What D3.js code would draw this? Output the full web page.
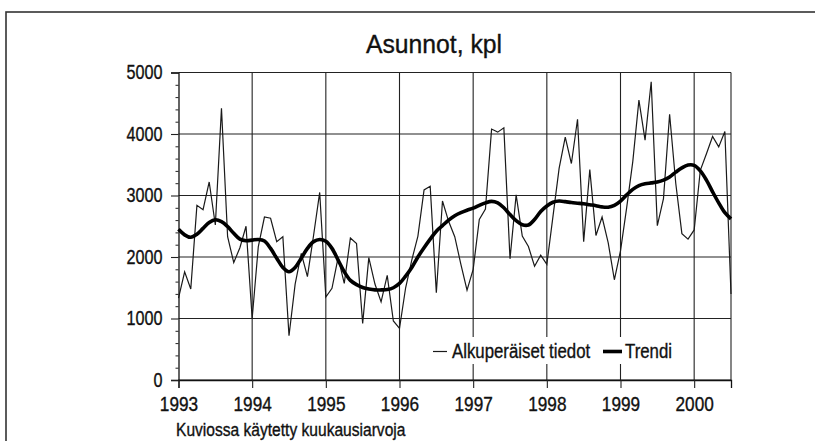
<!DOCTYPE html>
<html>
<head>
<meta charset="utf-8">
<script src="https://cdn.jsdelivr.net/npm/d3@7/dist/d3.min.js"></script>
<style>
  body { margin: 0; background: #fff; }
  svg { display: block; }
  text { font-family: "Liberation Sans", Arial, sans-serif; fill: #111; stroke: #111; stroke-width: 0.35px; }
</style>
</head>
<body>
<svg id="chart"></svg>
<script>
// monthly values, Jan 1993 .. Jul 2000
var startYear = 1993;
var yearTicks = [1993, 1994, 1995, 1996, 1997, 1998, 1999, 2000];
var valueTicks = [0, 1000, 2000, 3000, 4000, 5000];

var original = [
  1330, 1760, 1480, 2840, 2770, 3220, 2520, 4420, 2330, 1910, 2150, 2500,
  1000, 2170, 2650, 2630, 2250, 2330, 720, 1560, 2060, 1680, 2350, 3050,
  1350, 1490, 1990, 1570, 2310, 2220, 920, 1990, 1560, 1270, 1700, 960,
  840, 1500, 1950, 2340, 3090, 3150, 1420, 2910, 2580, 2330, 1880, 1460,
  1800, 2610, 2780, 4080, 4030, 4100, 1970, 3010, 2340, 2170, 1850, 2030,
  1880, 2660, 3440, 3950, 3520, 4240, 2250, 3420, 2350, 2650, 2230, 1630,
  2100, 2800, 3550, 4550, 3900, 4850, 2510, 2950, 4320, 3200, 2380, 2290,
  2440, 3410, 3680, 3960, 3790, 4040, 1400
];

var trend = [
  2450, 2360, 2320, 2370, 2465, 2560, 2605, 2575, 2495, 2385, 2290, 2265,
  2275, 2285, 2260, 2140, 1980, 1830, 1760, 1830, 1980, 2140, 2250, 2285,
  2255, 2140, 1950, 1760, 1620, 1550, 1505, 1480, 1465, 1465, 1470, 1500,
  1570, 1690, 1830, 2000, 2150, 2290, 2420, 2510, 2600, 2670, 2720, 2760,
  2795, 2840, 2880, 2905, 2880, 2800, 2690, 2590, 2525, 2520, 2610, 2740,
  2830, 2890, 2910, 2900, 2885, 2875, 2865, 2850, 2835, 2815, 2810, 2840,
  2910, 3010, 3100, 3160, 3190, 3205, 3220, 3250, 3300, 3380, 3450, 3495,
  3490, 3400, 3250, 3060, 2880, 2720, 2620
];

var width = 815, height = 441;
var svg = d3.select("#chart").attr("width", width).attr("height", height);

// no narrow font installed, so squeeze the regular one
function squeeze(sel, k) {
  sel.each(function() {
    var w = this.getComputedTextLength();
    d3.select(this).attr("textLength", w * k).attr("lengthAdjust", "spacingAndGlyphs");
  });
}

// outer frame
svg.append("rect")
    .attr("x", 6).attr("y", 12)
    .attr("width", 830).attr("height", 460)
    .attr("fill", "none").attr("stroke", "#333").attr("stroke-width", 1.6);

var x = d3.scaleLinear().domain([1993, 2000.5]).range([178.5, 731]);
var y = d3.scaleLinear().domain([0, 5000]).range([380, 72.5]);

function monthX(d, i) { return x(startYear + i / 12); }

// title
svg.append("text")
    .attr("x", 434).attr("y", 53)
    .attr("text-anchor", "middle")
    .attr("font-size", 25.5)
    .text("Asunnot, kpl")
    .call(squeeze, 0.97);

// grid
var grid = svg.append("g").attr("stroke", "#222").attr("stroke-width", 1.1);
grid.selectAll(".h").data(valueTicks).enter().append("line")
    .attr("x1", x.range()[0]).attr("x2", x.range()[1])
    .attr("y1", function(d) { return y(d); }).attr("y2", function(d) { return y(d); });
grid.selectAll(".v").data(yearTicks.slice(1).concat([2000.5])).enter().append("line")
    .attr("x1", function(d) { return x(d); }).attr("x2", function(d) { return x(d); })
    .attr("y1", y(5000)).attr("y2", y(0));

// axes
var minor = d3.range(0, 5001, 200).filter(function(d) { return d % 1000 !== 0; });
svg.append("g")
    .attr("transform", "translate(" + x.range()[0] + ",0)")
    .call(d3.axisLeft(y).tickValues(minor).tickSize(3).tickFormat(""))
    .call(function(g) { g.select(".domain").remove(); g.selectAll("line").attr("stroke", "#222"); });

var yAxis = svg.append("g")
    .attr("transform", "translate(" + x.range()[0] + ",0)")
    .call(d3.axisLeft(y).tickValues(valueTicks).tickSize(7.5).tickPadding(8.5).tickFormat(d3.format("d")));
yAxis.attr("font-family", null);
yAxis.select(".domain").attr("stroke", "#111").attr("stroke-width", 1.3);
yAxis.selectAll("line").attr("stroke", "#222").attr("stroke-width", 1.1);
yAxis.selectAll("text").attr("font-size", 19.5).attr("fill", null).call(squeeze, 0.83);

var xAxis = svg.append("g")
    .attr("transform", "translate(0," + y(0) + ")")
    .call(d3.axisBottom(x).tickValues(yearTicks).tickSize(8).tickPadding(8.5).tickFormat(d3.format("d")));
xAxis.attr("font-family", null);
xAxis.select(".domain").attr("stroke", "#111").attr("stroke-width", 1.3);
xAxis.selectAll("line").attr("stroke", "#222").attr("stroke-width", 1.1);
xAxis.selectAll("text").attr("font-size", 20).attr("fill", null).call(squeeze, 0.86);

// legend background (drawn before the lines so the lines stay on top)
var legend = svg.append("g");
legend.append("rect")
    .attr("x", 428).attr("y", 337).attr("width", 262).attr("height", 27)
    .attr("fill", "#fff");

// series
var rawLine = d3.line().x(monthX).y(function(d) { return y(d); });
var trendLine = d3.line().x(monthX).y(function(d) { return y(d); }).curve(d3.curveCatmullRom);

svg.append("path")
    .datum(original)
    .attr("d", rawLine)
    .attr("fill", "none").attr("stroke", "#1a1a1a").attr("stroke-width", 1.2)
    .attr("stroke-linejoin", "miter");

svg.append("path")
    .datum(trend)
    .attr("d", trendLine)
    .attr("fill", "none").attr("stroke", "#000").attr("stroke-width", 3.6);

// legend items
legend.append("line").attr("x1", 433).attr("x2", 447).attr("y1", 351.5).attr("y2", 351.5)
    .attr("stroke", "#1a1a1a").attr("stroke-width", 1.2);
legend.append("text").attr("x", 452).attr("y", 358)
    .attr("font-size", 20).text("Alkuperäiset tiedot")
    .call(squeeze, 0.84);
legend.append("line").attr("x1", 603).attr("x2", 622).attr("y1", 351.5).attr("y2", 351.5)
    .attr("stroke", "#000").attr("stroke-width", 3.6);
legend.append("text").attr("x", 625).attr("y", 358)
    .attr("font-size", 20).text("Trendi")
    .call(squeeze, 0.84);

// footer
svg.append("text")
    .attr("x", 176).attr("y", 435.5)
    .attr("font-size", 17.5)
    .text("Kuviossa käytetty kuukausiarvoja")
    .call(squeeze, 0.89);
</script>
</body>
</html>
